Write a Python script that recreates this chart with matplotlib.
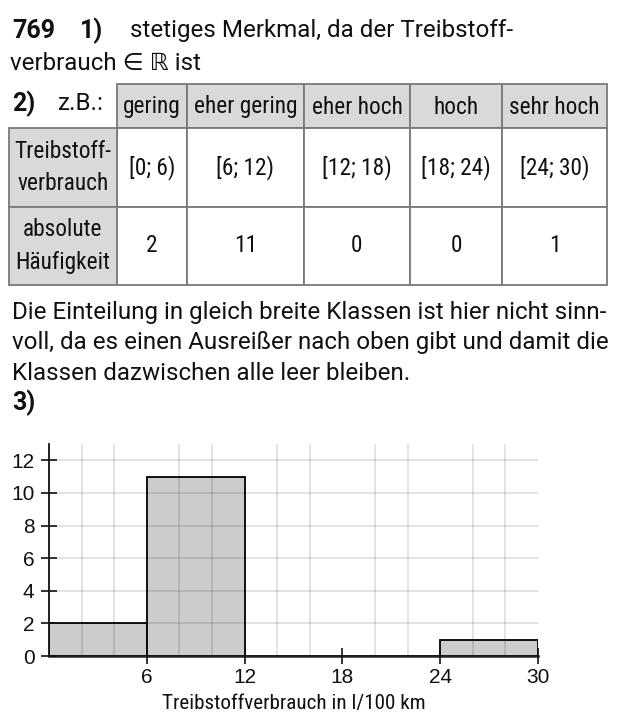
import matplotlib
matplotlib.use("Agg")
import matplotlib.pyplot as plt
import numpy as np
from matplotlib.patches import Rectangle
from matplotlib.ticker import FixedLocator, MultipleLocator

# ---------------- data ----------------
categories = ["gering", "eher gering", "eher hoch", "hoch", "sehr hoch"]
class_edges = [0, 6, 12, 18, 24, 30]
frequencies = [2, 11, 0, 0, 1]
x_tick_values = [6, 12, 18, 24, 30]
y_tick_values = [0, 2, 4, 6, 8, 10, 12]
row_labels = ["Treibstoff-\nverbrauch", "absolute\nHäufigkeit"]
x_label = "Treibstoffverbrauch in l/100 km"
paragraph = ["Die Einteilung in gleich breite Klassen ist hier nicht sinn-",
             "voll, da es einen Ausreißer nach oben gibt und damit die",
             "Klassen dazwischen alle leer bleiben."]

W, H = 623, 723
fig = plt.figure(figsize=(W / 100, H / 100), dpi=100)
renderer = fig.canvas.get_renderer()

COND = dict(family=["Roboto Condensed", "Archivo Narrow", "Fira Sans Condensed", "DejaVu Sans"])
REG = dict(family=["Roboto", "DejaVu Sans"])
BOLD = dict(family=["Roboto", "DejaVu Sans"], weight="bold")
INK = "#111111"


def fx(x):
    return x / W


def fy(y):
    return 1 - y / H


def txt(x, y, s, size, props, ha="left", va="center"):
    return fig.text(fx(x), fy(y), s, fontsize=size, ha=ha, va=va, color=INK, **props)


def fit_size(s, target_px, props):
    t = fig.text(0, 0, s, fontsize=10, **props)
    w = t.get_window_extent(renderer).width
    t.remove()
    return 10 * target_px / w


BODY = fit_size(paragraph[0], 595, REG)
TABLE = fit_size(categories[1], 103, COND)
XLAB = fit_size(x_label, 262, COND)
BOLDSZ = fit_size("769", 43, BOLD)

# ---------------- header text ----------------
txt(12, 31, "769", BOLDSZ, BOLD)
txt(80, 31, "1)", BOLDSZ, BOLD)
txt(130, 31, "stetiges Merkmal, da der Treibstoff-", BODY, REG)
txt(10, 64, "verbrauch \u2208 \u211d ist", BODY, REG)
txt(12, 104, "2)", BOLDSZ, BOLD)
txt(58, 104, "z.B.:", BODY, REG)

# ---------------- table ----------------
col_x = [9, 117, 187, 304, 410, 502, 607]
row_y = [84, 128, 207, 285]
grey_fill = "#d9d9d9"
border = "#7a7a7a"


def cell(x0, x1, y0, y1, fill):
    r = Rectangle((fx(x0), fy(y1)), fx(x1) - fx(x0), fy(y0) - fy(y1),
                  transform=fig.transFigure, facecolor=fill, edgecolor=border,
                  linewidth=1.3)
    fig.patches.append(r)


intervals = [f"[{a}; {b})" for a, b in zip(class_edges[:-1], class_edges[1:])]
for i, cat in enumerate(categories):
    x0, x1 = col_x[i + 1], col_x[i + 2]
    xc = (x0 + x1) / 2
    cell(x0, x1, row_y[0], row_y[1], grey_fill)
    txt(xc, (row_y[0] + row_y[1]) / 2 + 1, cat, TABLE, COND, ha="center")
    cell(x0, x1, row_y[1], row_y[2], "white")
    txt(xc, (row_y[1] + row_y[2]) / 2, intervals[i], TABLE, COND, ha="center")
    cell(x0, x1, row_y[2], row_y[3], "white")
    txt(xc, (row_y[2] + row_y[3]) / 2, str(frequencies[i]), TABLE, COND, ha="center")
for j, lab in enumerate(row_labels):
    y0, y1 = row_y[j + 1], row_y[j + 2]
    cell(col_x[0], col_x[1], y0, y1, grey_fill)
    lines = lab.split("\n")
    yc = (y0 + y1) / 2
    for k, line in enumerate(lines):
        txt((col_x[0] + col_x[1]) / 2, yc + (k - (len(lines) - 1) / 2) * 33, line,
            TABLE, COND, ha="center")

# ---------------- paragraph ----------------
for k, line in enumerate(paragraph):
    txt(12, 313 + 30 * k, line, BODY, REG)
txt(12, 403, "3)", BOLDSZ, BOLD)

# ---------------- histogram ----------------
ax_l, ax_r, ax_t, ax_b = 49, 538, 444, 656
ax = fig.add_axes([fx(ax_l), fy(ax_b), fx(ax_r) - fx(ax_l), fy(ax_t) - fy(ax_b)])
widths = np.diff(class_edges)
ax.bar(class_edges[:-1], frequencies, width=widths, align="edge",
       color="#cccccc", edgecolor="black", linewidth=1.3, zorder=1)
ax.set_xlim(0, 30)
ax.set_ylim(0, 13)
ax.set_axisbelow(False)

ax.xaxis.set_major_locator(FixedLocator(x_tick_values))
ax.xaxis.set_minor_locator(MultipleLocator(2))
ax.yaxis.set_major_locator(FixedLocator(y_tick_values))
ax.set_xticklabels([str(v) for v in x_tick_values])
ax.set_yticklabels([str(v) for v in y_tick_values])

ax.grid(True, which="minor", axis="x", color="black", alpha=0.13, linewidth=1.2)
ax.grid(True, which="major", axis="y", color="black", alpha=0.13, linewidth=1.2)

ax.tick_params(axis="both", which="major", direction="inout", length=11,
               width=1.2, color=INK, labelsize=15, labelcolor=INK)
ax.tick_params(axis="x", which="minor", length=0)
ax.tick_params(axis="x", which="major", pad=3)
ax.tick_params(axis="y", which="major", pad=5)
for lab in ax.get_xticklabels() + ax.get_yticklabels():
    lab.set_family(["Liberation Sans", "DejaVu Sans"])

for s in ["top", "right"]:
    ax.spines[s].set_visible(False)
ax.spines["left"].set_linewidth(1.3)
ax.spines["left"].set_color(INK)
ax.spines["bottom"].set_linewidth(1.8)
ax.spines["bottom"].set_color("#222222")

ax.set_xlabel(x_label, fontsize=XLAB, color=INK, labelpad=5, **COND)

fig.savefig("out.png", dpi=100)
